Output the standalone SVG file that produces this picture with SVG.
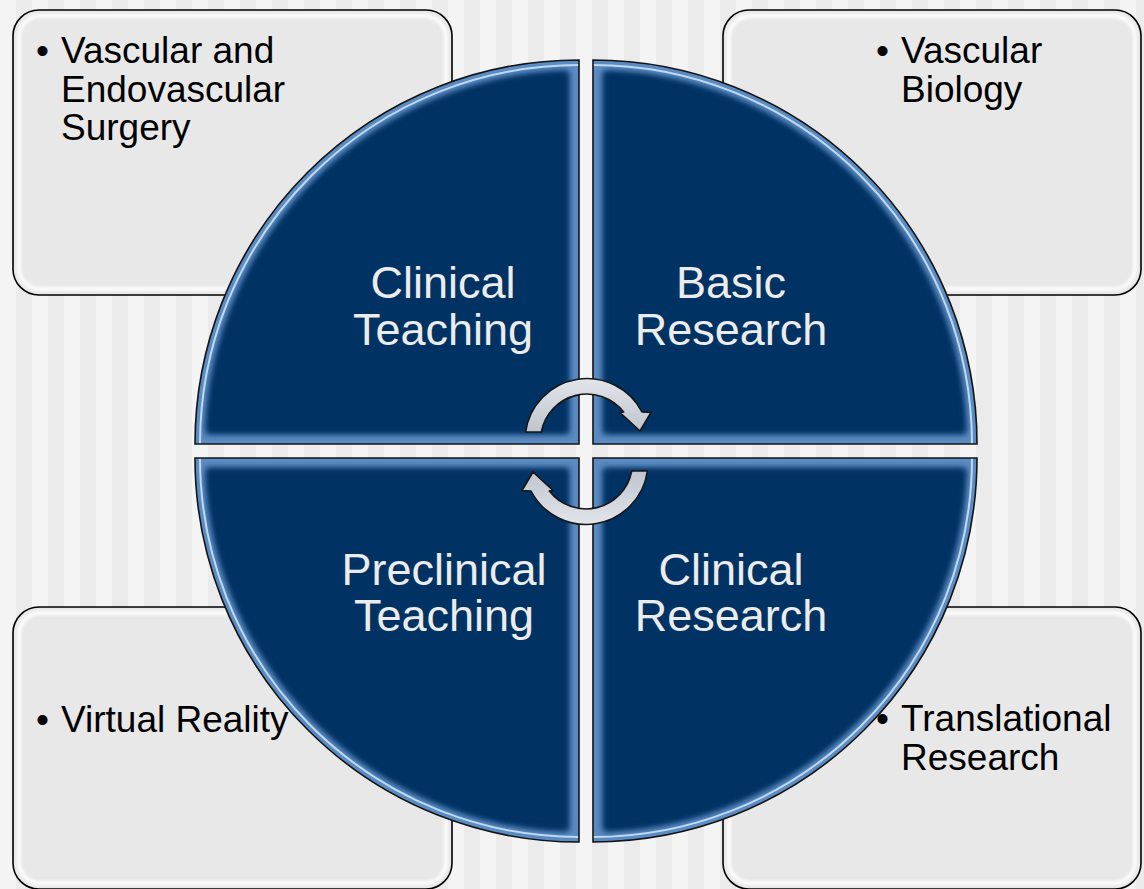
<svg xmlns="http://www.w3.org/2000/svg" width="1144" height="889" viewBox="0 0 1144 889">
  <defs>
    <pattern id="stripes" x="0" y="0" width="32" height="889" patternUnits="userSpaceOnUse">
      <rect x="0" y="0" width="16" height="889" fill="#f4f4f4"/>
      <rect x="16" y="0" width="16" height="889" fill="#ebebeb"/>
    </pattern>
    <filter id="blur3" x="-10%" y="-10%" width="120%" height="120%">
      <feGaussianBlur stdDeviation="3"/>
    </filter>
    <filter id="blur1" x="-10%" y="-10%" width="120%" height="120%">
      <feGaussianBlur stdDeviation="1.5"/>
    </filter>
    <linearGradient id="arrowGrad" x1="0" y1="0" x2="0" y2="1">
      <stop offset="0" stop-color="#e2e5ea"/>
      <stop offset="1" stop-color="#bfc4ce"/>
    </linearGradient>
    <clipPath id="cTL"><path d="M579,444 L195,444 A384,384 0 0 1 579,60 Z"/></clipPath>
    <clipPath id="cTR"><path d="M593,444 L593,60 A384,384 0 0 1 977,444 Z"/></clipPath>
    <clipPath id="cBR"><path d="M593,458 L977,458 A384,384 0 0 1 593,842 Z"/></clipPath>
    <clipPath id="cBL"><path d="M579,458 L579,842 A384,384 0 0 1 195,458 Z"/></clipPath>
    <path id="arrowShape" d="M525.6,432 A62,62 0 0 1 642,412 L651,412.5 L640,431 L620,412.5 L623.7,412 A46.5,46.5 0 0 0 541.3,432 Z"/>
  </defs>
  <style>
    .box { fill: #e8e8e8; stroke: #000; stroke-width: 1.6; }
    .boxgloss { fill: none; stroke: #ffffff; stroke-width: 4; opacity: 0.9; }
    .qfill { fill: #023263; }
    .qbevel { fill: none; stroke: #5a8bc2; stroke-width: 24; }
    .qhl { fill: none; stroke: #c4def6; stroke-width: 2; opacity: 0.95; }
    .qline { fill: none; stroke: #141414; stroke-width: 1.6; }
    .qtext { font-family: "Liberation Sans", Arial, sans-serif; font-size: 45px; fill: #ececec; text-anchor: middle; }
    .btext { font-family: "Liberation Sans", Arial, sans-serif; font-size: 37px; fill: #000; }
    .arrow { fill: url(#arrowGrad); stroke: #161616; stroke-width: 1.6; stroke-linejoin: round; }
  </style>

  <rect x="0" y="0" width="1144" height="889" fill="url(#stripes)"/>

  <!-- side boxes -->
  <g id="box-tl">
    <rect class="box" x="13" y="10" width="439" height="285" rx="26"/>
    <rect class="boxgloss" x="19" y="16" width="427" height="273" rx="21" filter="url(#blur1)"/>
  </g>
  <g id="box-tr">
    <rect class="box" x="723" y="10" width="418" height="285" rx="26"/>
    <rect class="boxgloss" x="729" y="16" width="406" height="273" rx="21" filter="url(#blur1)"/>
  </g>
  <g id="box-bl">
    <rect class="box" x="13" y="607" width="439" height="282" rx="26"/>
    <rect class="boxgloss" x="19" y="613" width="427" height="270" rx="21" filter="url(#blur1)"/>
  </g>
  <g id="box-br">
    <rect class="box" x="723" y="607" width="418" height="282" rx="26"/>
    <rect class="boxgloss" x="729" y="613" width="406" height="270" rx="21" filter="url(#blur1)"/>
  </g>

  <!-- quadrants -->
  <g id="q-clinical-teaching">
    <g clip-path="url(#cTL)">
      <path class="qfill" d="M579,444 L195,444 A384,384 0 0 1 579,60 Z"/>
      <path class="qbevel" d="M579,444 L195,444 A384,384 0 0 1 579,60 Z" filter="url(#blur3)"/>
      <path class="qfill" d="M569,434 L206,434 A373,373 0 0 1 569,71 Z" filter="url(#blur3)" opacity="0.92"/>
    </g>
    <path class="qhl" d="M200,444 A379,379 0 0 1 579,65"/>
    <path class="qline" d="M579,444 L195,444 A384,384 0 0 1 579,60 Z"/>
    <text class="qtext" x="443" y="298">Clinical</text>
    <text class="qtext" x="443" y="345">Teaching</text>
  </g>
  <g id="q-basic-research">
    <g clip-path="url(#cTR)">
      <path class="qfill" d="M593,444 L593,60 A384,384 0 0 1 977,444 Z"/>
      <path class="qbevel" d="M593,444 L593,60 A384,384 0 0 1 977,444 Z" filter="url(#blur3)"/>
      <path class="qfill" d="M603,434 L603,71 A373,373 0 0 1 966,434 Z" filter="url(#blur3)" opacity="0.92"/>
    </g>
    <path class="qhl" d="M593,65 A379,379 0 0 1 972,444"/>
    <path class="qline" d="M593,444 L593,60 A384,384 0 0 1 977,444 Z"/>
    <text class="qtext" x="731" y="298">Basic</text>
    <text class="qtext" x="731" y="345">Research</text>
  </g>
  <g id="q-clinical-research">
    <g clip-path="url(#cBR)">
      <path class="qfill" d="M593,458 L977,458 A384,384 0 0 1 593,842 Z"/>
      <path class="qbevel" d="M593,458 L977,458 A384,384 0 0 1 593,842 Z" filter="url(#blur3)"/>
      <path class="qfill" d="M603,468 L966,468 A373,373 0 0 1 603,831 Z" filter="url(#blur3)" opacity="0.92"/>
    </g>
    <path class="qhl" d="M972,458 A379,379 0 0 1 593,837"/>
    <path class="qline" d="M593,458 L977,458 A384,384 0 0 1 593,842 Z"/>
    <text class="qtext" x="731" y="585">Clinical</text>
    <text class="qtext" x="731" y="631">Research</text>
  </g>
  <g id="q-preclinical-teaching">
    <g clip-path="url(#cBL)">
      <path class="qfill" d="M579,458 L579,842 A384,384 0 0 1 195,458 Z"/>
      <path class="qbevel" d="M579,458 L579,842 A384,384 0 0 1 195,458 Z" filter="url(#blur3)"/>
      <path class="qfill" d="M569,468 L569,831 A373,373 0 0 1 206,468 Z" filter="url(#blur3)" opacity="0.92"/>
    </g>
    <path class="qhl" d="M579,837 A379,379 0 0 1 200,458"/>
    <path class="qline" d="M579,458 L579,842 A384,384 0 0 1 195,458 Z"/>
    <text class="qtext" x="444" y="585">Preclinical</text>
    <text class="qtext" x="444" y="631">Teaching</text>
  </g>

  <!-- box labels -->
  <g id="label-tl" class="btext">
    <text x="36" y="63">•</text>
    <text x="61" y="63">Vascular and</text>
    <text x="61" y="102">Endovascular</text>
    <text x="61" y="140">Surgery</text>
  </g>
  <g id="label-tr" class="btext">
    <text x="876" y="63">•</text>
    <text x="901" y="63">Vascular</text>
    <text x="901" y="102">Biology</text>
  </g>
  <g id="label-bl" class="btext">
    <text x="36" y="732">•</text>
    <text x="61" y="732">Virtual Reality</text>
  </g>
  <g id="label-br" class="btext">
    <text x="876" y="731">•</text>
    <text x="901" y="731">Translational</text>
    <text x="901" y="770">Research</text>
  </g>

  <!-- cycle arrows -->
  <g id="connectors">
    <use href="#arrowShape" class="arrow"/>
    <use href="#arrowShape" class="arrow" transform="rotate(180 586.5 451.5)"/>
  </g>
</svg>
